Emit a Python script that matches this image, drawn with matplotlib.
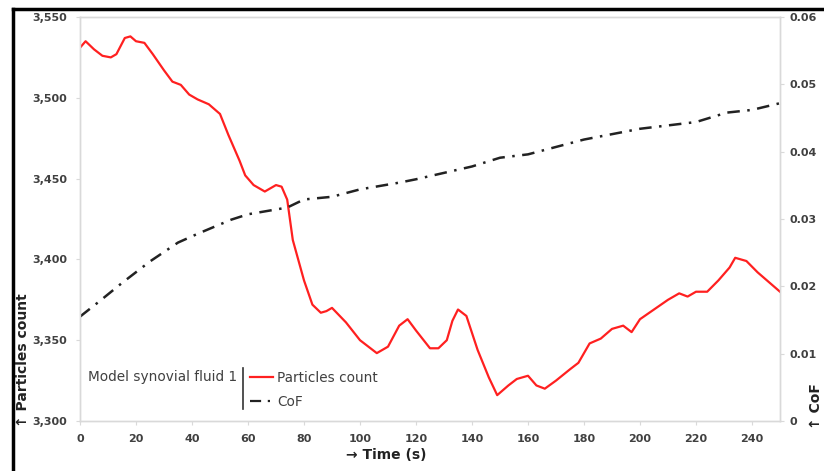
import matplotlib
matplotlib.use("Agg")
import matplotlib.pyplot as plt
from matplotlib.lines import Line2D
import numpy as np

# particles count (left axis)
t_pc = [0, 2, 5, 8, 11, 13, 16, 18, 20, 23, 26, 30, 33, 36, 39, 42, 46, 50,
        53, 57, 59, 62, 66, 68, 70, 72, 74, 76, 80, 83, 86, 88, 90, 95, 100,
        103, 106, 110, 114, 117, 120, 125, 128, 131, 133, 135, 138, 142, 146,
        149, 153, 156, 160, 163, 166, 170, 175, 178, 182, 186, 190, 194, 197,
        200, 205, 210, 214, 217, 220, 224, 228, 232, 234, 238, 242, 246, 250]
particles = [3531, 3535, 3530, 3526, 3525, 3527, 3537, 3538, 3535, 3534, 3527,
             3517, 3510, 3508, 3502, 3499, 3496, 3490, 3477, 3461, 3452, 3446,
             3442, 3444, 3446, 3445, 3437, 3412, 3387, 3372, 3367, 3368, 3370,
             3361, 3350, 3346, 3342, 3346, 3359, 3363, 3356, 3345, 3345, 3350,
             3362, 3369, 3365, 3344, 3327, 3316, 3322, 3326, 3328, 3322, 3320,
             3325, 3332, 3336, 3348, 3351, 3357, 3359, 3355, 3363, 3369, 3375,
             3379, 3377, 3380, 3380, 3387, 3395, 3401, 3399, 3392, 3386, 3380]

# coefficient of friction (right axis)
t_cof = [0, 7, 15, 25, 35, 42, 54, 60, 74, 80, 90, 100, 114, 120, 140, 150,
         160, 180, 200, 220, 231, 240, 250]
cof = [0.0155, 0.0178, 0.0205, 0.0237, 0.0265, 0.0278, 0.0299, 0.0307,
       0.0317, 0.0329, 0.0333, 0.0344, 0.0354, 0.0359, 0.0378, 0.0391,
       0.0396, 0.0418, 0.0434, 0.0444, 0.0458, 0.0462, 0.0472]

x_ticks = np.arange(0, 251, 20)
left_ticks = [3300, 3350, 3400, 3450, 3500, 3550]
right_ticks = [0, 0.01, 0.02, 0.03, 0.04, 0.05, 0.06]

tick_col = "#404040"
grid_col = "#d9d9d9"
W, H = 824, 471

fig = plt.figure(figsize=(8.24, 4.71), dpi=100)
ax = fig.add_axes([80 / W, 50 / H, 700 / W, 404 / H])
ax2 = ax.twinx()

ax.plot(t_pc, particles, color="#ff2020", lw=1.6, zorder=3)
ax2.plot(t_cof, cof, color="#222222", lw=1.8, dashes=(5, 3, 1, 3))

ax.set_xlim(0, 250)
ax.set_ylim(3300, 3550)
ax2.set_ylim(0, 0.06)
ax.set_xticks(x_ticks)
ax.set_yticks(left_ticks)
ax.set_yticklabels(["{:,}".format(v) for v in left_ticks])
ax2.set_yticks(right_ticks)
ax2.set_yticklabels(["0"] + ["%.2f" % v for v in right_ticks[1:]])

for a in (ax, ax2):
    for s in a.spines.values():
        s.set_color(grid_col)
        s.set_linewidth(1.0)
    a.tick_params(length=3, color=grid_col, labelsize=8, labelcolor=tick_col, pad=4)
    for lab in a.get_xticklabels() + a.get_yticklabels():
        lab.set_fontweight("bold")
ax.tick_params(axis="y", pad=6)
ax.tick_params(axis="x", pad=6)

# axis titles, placed as in the original
fig.text(386 / W, 1 - 455 / H, "→ Time (s)", fontsize=10, fontweight="bold",
         color="#222222", ha="center", va="center")
fig.text(23 / W, 1 - 427 / H, "↑ Particles count", fontsize=10, fontweight="bold",
         color="#222222", rotation=90, ha="center", va="bottom")
fig.text(816 / W, 1 - 429 / H, "↑ CoF", fontsize=10, fontweight="bold",
         color="#222222", rotation=90, ha="center", va="bottom")

# legend in the style of the original
ax.text(0.012, 0.108, "Model synovial fluid 1", transform=ax.transAxes,
        fontsize=9.8, color=tick_col, va="center")
ax.plot([0.233, 0.233], [0.03, 0.13], transform=ax.transAxes, color="#333333", lw=1.2)
handles = [Line2D([], [], color="#ff2020", lw=1.6),
           Line2D([], [], color="#222222", lw=1.6, dashes=(5, 3, 1, 3))]
leg = ax.legend(handles, ["Particles count", "CoF"], loc="lower left",
                bbox_to_anchor=(0.225, 0.0), frameon=False, fontsize=9.8,
                handlelength=1.7, handletextpad=0.3, labelspacing=0.7)
for txt in leg.get_texts():
    txt.set_color(tick_col)

# thick outer frame (left and top edges visible)
fig.add_artist(Line2D([13 / W, 13 / W], [0, 1 - 9 / H], transform=fig.transFigure,
                      color="black", lw=2.5))
fig.add_artist(Line2D([13 / W, 1], [1 - 9 / H, 1 - 9 / H], transform=fig.transFigure,
                      color="black", lw=2.5))

fig.savefig("out.png", dpi=100)
